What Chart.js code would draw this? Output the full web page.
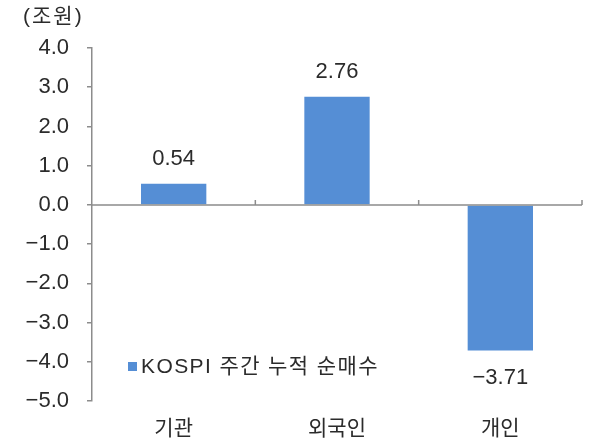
<!DOCTYPE html>
<html>
<head>
<meta charset="utf-8">
<script src="https://cdn.jsdelivr.net/npm/chart.js@4"></script>
<style>
  body { margin: 0; background: #fff; }
  #wrap { width: 590px; height: 441px; }
</style>
</head>
<body>
<div id="wrap"><canvas id="chart" width="590" height="441"></canvas></div>
<script>
const categories = ['기관', '외국인', '개인'];
const netBuy = [0.54, 2.76, -3.71];
const seriesName = 'KOSPI 주간 누적 순매수';
const unitLabel = '(조원)';

const FONT = "'Liberation Sans', 'Noto Sans CJK KR', sans-serif";
const AXIS = '#8c8c8c';
const TEXT = '#2b2b2b';
const BAR = '#558ed5';

const fmt = (v) => (v < 0 ? '\u2212' : '') + Math.abs(v).toFixed(1);

// zero line with small category ticks, data labels, legend and unit text
const extras = {
  id: 'extras',
  afterDatasetsDraw(chart) {
    const { ctx, scales: { x, y } } = chart;
    const y0 = y.getPixelForValue(0);
    ctx.save();
    ctx.strokeStyle = AXIS;
    ctx.lineWidth = 1.5;
    ctx.beginPath();
    ctx.moveTo(x.left, y0);
    ctx.lineTo(x.right, y0);
    for (let i = 1; i <= categories.length; i++) {
      const bx = x.left + (x.right - x.left) * i / categories.length;
      ctx.moveTo(bx, y0);
      ctx.lineTo(bx, y0 - 5);
    }
    ctx.stroke();

    ctx.fillStyle = TEXT;
    ctx.font = '22px ' + FONT;
    ctx.textAlign = 'center';
    ctx.textBaseline = 'middle';
    const meta = chart.getDatasetMeta(0);
    meta.data.forEach((bar, i) => {
      const v = netBuy[i];
      const txt = (v < 0 ? '\u2212' : '') + Math.abs(v).toFixed(2);
      if (v >= 0) {
        ctx.fillText(txt, bar.x, bar.y - 25);
      } else {
        ctx.fillText(txt, bar.x, bar.y + 28);
      }
    });

    // legend
    ctx.fillStyle = BAR;
    ctx.fillRect(128, 362, 9, 9);
    ctx.fillStyle = TEXT;
    ctx.textAlign = 'left';
    ctx.font = '21px ' + FONT;
    ctx.letterSpacing = '1.4px';
    ctx.fillText(seriesName, 141, 367);

    // unit
    ctx.letterSpacing = '2px';
    ctx.fillText(unitLabel, 23, 17);
    ctx.restore();
  }
};

new Chart(document.getElementById('chart'), {
  type: 'bar',
  data: {
    labels: categories,
    datasets: [{
      label: seriesName,
      data: netBuy,
      backgroundColor: BAR,
      borderWidth: 0,
      categoryPercentage: 1,
      barPercentage: 0.4
    }]
  },
  options: {
    responsive: false,
    animation: false,
    layout: { padding: { top: 48, right: 8, left: 0, bottom: 0 } },
    plugins: {
      legend: { display: false },
      tooltip: { enabled: false }
    },
    scales: {
      x: {
        grid: { display: false },
        border: { display: false },
        ticks: { color: TEXT, font: { family: FONT, size: 21 }, padding: 8 },
        afterFit(scale) { scale.height = 40; }
      },
      y: {
        min: -5,
        max: 4,
        ticks: {
          stepSize: 1,
          color: TEXT,
          font: { family: FONT, size: 22 },
          padding: 18,
          callback: (v) => fmt(v)
        },
        grid: {
          drawOnChartArea: false,
          tickLength: 5,
          tickColor: AXIS,
          lineWidth: 1.5
        },
        border: { color: AXIS, width: 1.5 },
        afterFit(scale) { scale.width = 92; }
      }
    }
  },
  plugins: [extras]
});
</script>
</body>
</html>
